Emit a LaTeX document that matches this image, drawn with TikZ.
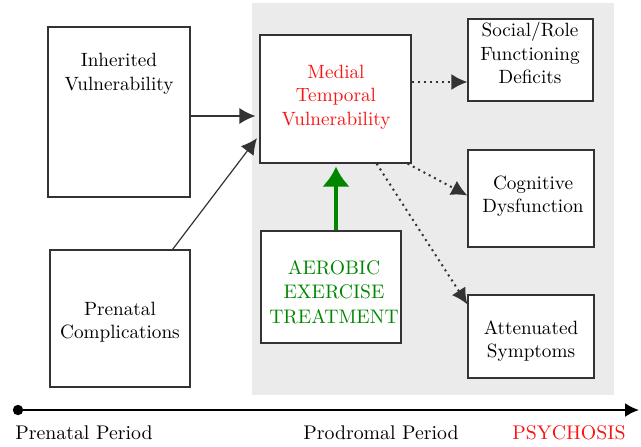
\documentclass[tikz,border=0pt]{standalone}
\usepackage{tikz}
\usetikzlibrary{positioning,arrows,arrows.meta}

\definecolor{panelgray}{RGB}{235,235,235}
\definecolor{mtvred}{RGB}{250,20,20}
\definecolor{aerogreen}{RGB}{0,135,0}

\begin{document}
\begin{tikzpicture}[
     % define styles
     x=0.5pt, y=-0.5pt,
     box/.style={
         draw=black!80,
         fill=white,
         line width=0.6pt,
         rectangle,
         inner sep=0pt
     },
     txt/.style={
         align=center,
         font=\fontsize{9.6}{11.8}\selectfont
     },
     dots/.style={
         draw=black!80,
         dotted,
         line width=1pt,
         -{Latex[length=8pt,width=8pt]}
     },
     >=latex
]
\useasboundingbox (0,0) rectangle (641,446);

% shaded prodromal panel
\fill[panelgray] (252,3) rectangle (614,395);

% boxes
\node[box, minimum width=71pt, minimum height=85pt] (inh) at (119,112) {};
\node[box, minimum width=70pt, minimum height=68.5pt] (pre) at (120,318.5) {};
\node[box, minimum width=75.5pt, minimum height=64pt] (mtv) at (335.5,99) {};
\node[box, minimum width=70pt, minimum height=56pt] (aer) at (331,287) {};
\node[box, minimum width=62.5pt, minimum height=41pt] (soc) at (530.5,60) {};
\node[box, minimum width=63pt, minimum height=48.5pt] (cog) at (531,198.5) {};
\node[box, minimum width=63pt, minimum height=41.5pt] (att) at (531,336.5) {};

% box texts
\node[txt] (inh-txt) at (119,74) {Inherited\\Vulnerability};
\node[txt] (pre-txt) at (120,322) {Prenatal\\Complications};
\node[txt, text=mtvred] (mtv-txt) at (336,97) {Medial\\Temporal\\Vulnerability};
\node[txt, text=aerogreen, font=\fontsize{9.8}{12.2}\selectfont] (aer-txt) at (334,292) {AEROBIC\\EXERCISE\\TREATMENT};
\node[txt] (soc-txt) at (530,53) {Social/Role\\Functioning\\Deficits};
\node[txt] (cog-txt) at (533,196) {Cognitive\\Dysfunction};
\node[txt] (att-txt) at (531,341) {Attenuated\\Symptoms};

% arrows into medial temporal vulnerability
\draw[->, draw=black!80, line width=0.6pt, >={Latex[length=8pt,width=8pt]}, shorten >=2pt]
     ([yshift=-2pt]inh.east) -- ([yshift=-2pt]inh.east -| mtv.west);
\draw[->, draw=black!80, line width=0.6pt, >={Latex[length=8pt,width=8pt]}, shorten >=2pt]
     ([xshift=-9pt]pre.north east) -- ([yshift=-18pt]mtv.west);
\draw[-{Latex[length=10pt,width=14pt]}, draw=aerogreen, line width=2pt, shorten >=1.5pt]
     (aer.north -| mtv-txt) -- (mtv.south -| mtv-txt);

% dotted outcome arrows
\draw[dots] ([yshift=8.5pt]mtv.east) -- ([yshift=-11pt]soc.west);
\draw[dots] ([xshift=-2pt]mtv.south east) -- ([yshift=1.5pt]cog.west);
\draw[dots] ([xshift=-17.5pt]mtv.south east) -- ([yshift=-5pt]att.north west);

% timeline
\coordinate (t0) at (18,410);
\coordinate (t1) at (639,410);
\fill[black] (t0) circle (2.6pt);
\draw[-{Latex[length=7pt,width=7pt]}, line width=1pt] (t0) -- (t1);
\node[txt, font=\fontsize{9.9}{12}\selectfont] (prenatal) at (84,433) {Prenatal Period};
\node[txt, font=\fontsize{9.9}{12}\selectfont] (prodromal) at (381,433) {Prodromal Period};
\node[txt, font=\fontsize{9.9}{12}\selectfont, text=mtvred] (psychosis) at (569,433) {PSYCHOSIS};
\end{tikzpicture}
\end{document}
